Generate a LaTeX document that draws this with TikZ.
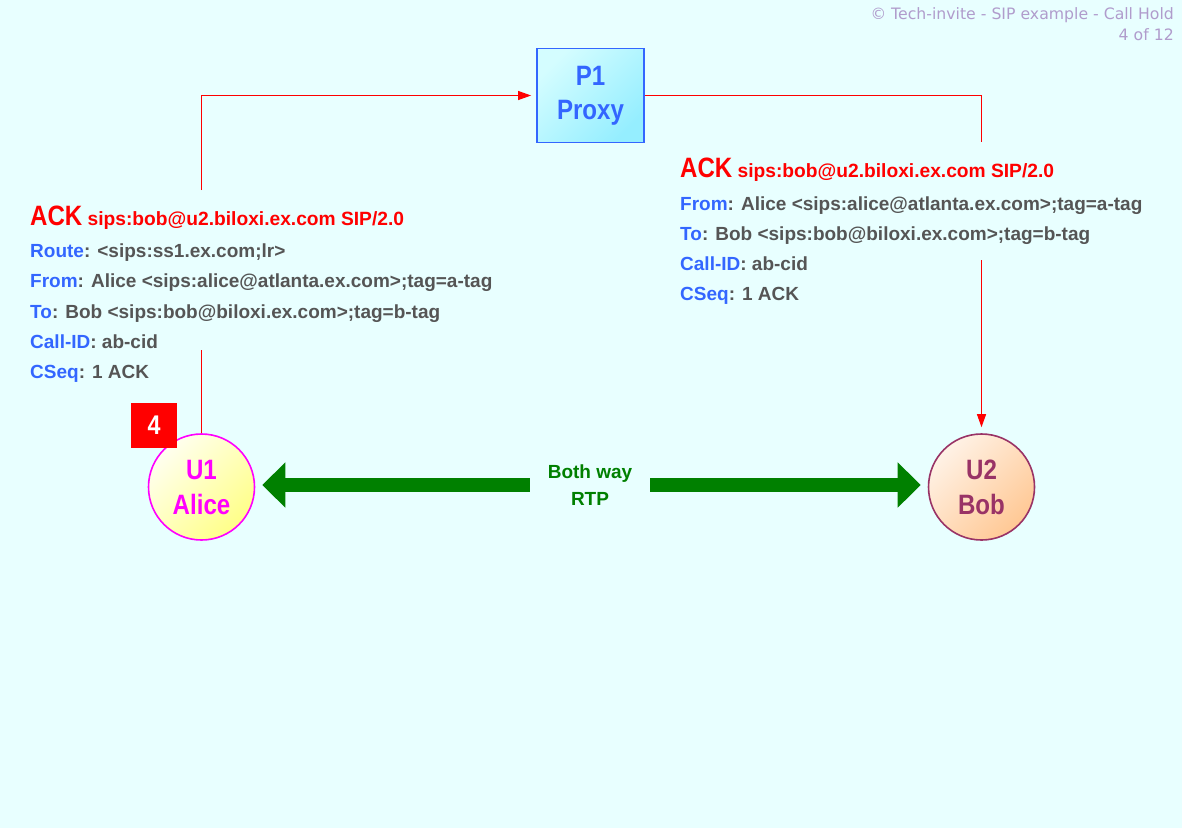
\documentclass[tikz,border=0pt]{standalone}
\usepackage{fontspec}
\setmainfont{Liberation Sans}
\newfontfamily\bigfont{Liberation Sans Bold}[FakeStretch=0.86]
\newfontfamily\titlefont{DejaVu Sans}
\usetikzlibrary{arrows.meta}
\definecolor{bg}{HTML}{E8FFFF}
\definecolor{ackred}{HTML}{FF0000}
\definecolor{fblue}{HTML}{3366FF}
\definecolor{fgray}{HTML}{555555}
\definecolor{ttl}{HTML}{B09CCC}
\definecolor{pxborder}{HTML}{3366FF}
\definecolor{pxa}{HTML}{D4FDFF}
\definecolor{pxb}{HTML}{95EEFF}
\definecolor{uamag}{HTML}{FF00FF}
\definecolor{uaa}{HTML}{FFFFF0}
\definecolor{uab}{HTML}{FFFF88}
\definecolor{ubpur}{HTML}{993366}
\definecolor{uba}{HTML}{FFF2E6}
\definecolor{ubb}{HTML}{FFC894}
\definecolor{rtpgreen}{HTML}{008000}
\newcommand\hf[2]{\textcolor{fblue}{#1}\textcolor{fgray}{: #2}}
\newcommand\ackline{{\bigfont\fontsize{28}{28}\selectfont ACK} {\fontsize{19.2}{20}\selectfont sips:bob@u2.biloxi.ex.com SIP/2.0}}
\tikzset{
  txt/.style={anchor=base west, inner sep=0pt, font=\bfseries\fontsize{19}{19}\selectfont},
  acktxt/.style={txt, text=ackred},
  proxybox/.style={draw=pxborder, line width=1.8pt, top color=pxa, bottom color=pxb, shading angle=45,
    minimum width=107pt, minimum height=94pt, align=center, text=pxborder,
    font=\bigfont\fontsize{28}{34}\selectfont},
  ua/.style={circle, line width=1.6pt, minimum size=106pt, inner sep=0pt, align=center,
    font=\bigfont\fontsize{28}{35}\selectfont},
  uaone/.style={ua, draw=uamag, top color=uaa, bottom color=uab, shading angle=45, text=uamag},
  uatwo/.style={ua, draw=ubpur, top color=uba, bottom color=ubb, shading angle=45, text=ubpur},
  badge/.style={fill=ackred, text=white, minimum width=46pt, minimum height=45pt, inner sep=0pt,
    font=\bigfont\fontsize{27}{27}\selectfont},
  sig/.style={draw=ackred, line width=1.1pt},
  sigarrow/.style={sig, -{Triangle[length=13pt,width=9pt]}},
  rtplabel/.style={minimum width=120pt, inner sep=0pt, align=center, text=rtpgreen,
    font=\bfseries\fontsize{19}{27}\selectfont},
  rtparrow/.style={color=rtpgreen, line width=14pt, -{Triangle[length=23pt,width=44pt]}, shorten >=7pt},
  title/.style={anchor=base east, inner sep=0pt, text=ttl, font=\titlefont\fontsize{15.7}{16}\selectfont}
}
\begin{document}
\begin{tikzpicture}[x=1pt,y=-1pt]
\fill[bg] (0,0) rectangle (1182,828);
\useasboundingbox (0,0) rectangle (1182,828);

% signalling connectors
\coordinate (a1) at (201.5,190);
\coordinate (a2) at (201.5,350);
\coordinate (b1) at (981.5,142);
\coordinate (b2) at (981.5,260);

\node[proxybox] (P1) at (590.5,95.5) {P1\\Proxy};
\node[uaone] (U1) at (201.5,487) {U1\\Alice};
\node[uatwo] (U2) at (981.5,487) {U2\\Bob};

\draw[sig] (U1.north) -- (a2);
\draw[sigarrow, shorten >=5pt] (a1) |- (P1.west);
\draw[sig] (P1.east) -| (b1);
\draw[sigarrow, shorten >=6pt] (b2) -- (U2.north);

\node[badge] (B4) at (154,425.5) {4};

\node[title] (t1) at (1174,19) {© Tech-invite - SIP example - Call Hold};
\node[title] (t2) at (1174,40) {4 of 12};

% left message
\node[acktxt] (l0) at (30,225) {\ackline};
\node[txt] (l1) at (30,257) {\hf{Route}{<sips:ss1.ex.com;lr>}};
\node[txt] (l2) at (30,287) {\hf{From}{Alice <sips:alice@atlanta.ex.com>;tag=a-tag}};
\node[txt] (l3) at (30,318) {\hf{To}{Bob <sips:bob@biloxi.ex.com>;tag=b-tag}};
\node[txt] (l4) at (30,348) {\hf{Call-ID}{ab-cid}};
\node[txt] (l5) at (30,378) {\hf{CSeq}{1 ACK}};

% right message
\node[acktxt] (r0) at (680,177) {\ackline};
\node[txt] (r1) at (680,210) {\hf{From}{Alice <sips:alice@atlanta.ex.com>;tag=a-tag}};
\node[txt] (r2) at (680,240) {\hf{To}{Bob <sips:bob@biloxi.ex.com>;tag=b-tag}};
\node[txt] (r3) at (680,270) {\hf{Call-ID}{ab-cid}};
\node[txt] (r4) at (680,300) {\hf{CSeq}{1 ACK}};

% RTP
\node[rtplabel] (rtp) at (590,485) {Both way\\RTP};
\draw[rtparrow] (rtp.west) -- (rtp.west -| U1.east);
\draw[rtparrow] (rtp.east) -- (rtp.east -| U2.west);
\end{tikzpicture}
\end{document}
